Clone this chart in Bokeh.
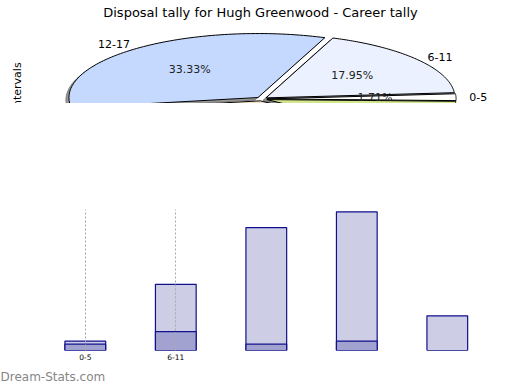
import numpy as np
from bokeh.plotting import figure
from bokeh.layouts import column
from bokeh.models import ColumnDataSource, FixedTicker, Range1d, Title
from bokeh.core.properties import value
from bokeh.embed import file_html
from bokeh.resources import INLINE

# ---------------- data ----------------
title_text = "Disposal tally for Hugh Greenwood - Career tally"
axis_title = "Intervals"
intervals = ["0-5", "6-11", "12-17", "18-23", "24+"]
pie_counts = [2, 21, 39, 44, 11]
slice_colors = ["#FFFFFF", "#EBF1FE", "#C5D9FE", "#F3E3C3", "#D3E78F"]
bar_light = [3, 21, 39, 44, 11]
bar_dark = [2, 6, 2, 3, 0]
tick_positions = [0, 1]
watermark = "Dream-Stats.com"

FONT = "DejaVu Sans"
W = 516

# ---------------- pie (top) ----------------
RX, RY = 189.0, 64.0          # ellipse radii in px
START_DEG = -1.5
EXPLODE = 5.6 / RX            # explode distance (unit-circle units)
H1 = 103
CX, CY = 261.0, 98.5          # pie centre inside the figure (px)
LABEL_R, PCT_R = 1.10, 0.60

p1 = figure(width=W, height=H1, output_backend="svg", toolbar_location=None,
            title=None, x_axis_location=None, y_axis_location=None,
            x_range=Range1d(-CX / RX, (W - CX) / RX),
            y_range=Range1d(-(H1 - CY) / RY, CY / RY),
            min_border=0, min_border_left=0, min_border_right=0,
            min_border_top=0, min_border_bottom=0)
p1.outline_line_color = None
p1.xgrid.visible = False
p1.ygrid.visible = False

total = float(sum(pie_counts))
fracs = [c / total for c in pie_counts]
bounds = START_DEG + 360.0 * np.concatenate([[0.0], np.cumsum(fracs)])
y_floor = p1.y_range.start

sh_xs, sh_ys, sl_xs, sl_ys = [], [], [], []
lab = dict(x=[], y=[], t=[], align=[])
pct = dict(x=[], y=[], t=[])
for i in range(len(intervals)):
    a0, a1 = np.radians(bounds[i]), np.radians(bounds[i + 1])
    mid = 0.5 * (a0 + a1)
    ox, oy = EXPLODE * np.cos(mid), EXPLODE * np.sin(mid)
    t = np.linspace(a0, a1, 90)
    xs = np.concatenate([[ox], ox + np.cos(t)])
    ys = np.concatenate([[oy], oy + np.sin(t)])
    sl_xs.append(list(xs)); sl_ys.append(list(ys))
    sh_xs.append(list(xs - 3.0 / RX)); sh_ys.append(list(ys - 2.5 / RY))
    ly = LABEL_R * np.sin(mid)
    if ly > y_floor:   # only labels that fall in the visible band
        lab["x"].append(LABEL_R * np.cos(mid)); lab["y"].append(ly)
        lab["t"].append(intervals[i])
        lab["align"].append("left" if np.cos(mid) >= 0 else "right")
    py = PCT_R * np.sin(mid)
    if py > y_floor:
        pct["x"].append(PCT_R * np.cos(mid)); pct["y"].append(py)
        pct["t"].append(f"{100 * fracs[i]:.2f}%")

p1.patches(sh_xs, sh_ys, fill_color="#9a9a9a", line_color="#7a7a7a", line_width=1)
p1.patches(sl_xs, sl_ys, fill_color=slice_colors, line_color="black", line_width=1)

p1.text(x="x", y="y", text="t", text_align="align", source=ColumnDataSource(lab),
        text_font=value(FONT), text_font_size="11px", text_baseline="middle",
        text_color="black")
p1.text(x=pct["x"], y=pct["y"], text=pct["t"], text_font=value(FONT), text_font_size="11px",
        text_align="center", text_baseline="middle", text_color="#222222")

# chart title (inside the frame, near its top)
p1.text(x=[(260 - CX) / RX], y=[(CY - 11.5) / RY], text=[title_text], text_font=value(FONT),
        text_font_size="13px", text_align="center", text_baseline="alphabetic",
        text_color="black")
# vertical axis title (clipped by the frame bottom, as in the reference)
p1.text(x=[(17 - CX) / RX], y=[(CY - 85.8) / RY], text=[axis_title], angle=np.pi / 2,
        text_font=value(FONT), text_font_size="11px", text_align="center",
        text_baseline="middle", text_color="black")

# ---------------- bars (bottom) ----------------
PX_PER_X = 90.5
PX_PER_Y = 3.152
FIRST_CENTER = 84.8
TOP, BOTTOM = 106, 40
H2 = 287
frame_h = H2 - TOP - BOTTOM
x0 = -FIRST_CENTER / PX_PER_X

p2 = figure(width=W, height=H2, output_backend="svg", toolbar_location=None,
            title=None, y_axis_location=None,
            x_range=Range1d(x0, x0 + W / PX_PER_X),
            y_range=Range1d(0, frame_h / PX_PER_Y),
            min_border_left=0, min_border_right=0,
            min_border_top=TOP, min_border_bottom=BOTTOM)
p2.outline_line_color = None
p2.ygrid.visible = False

src = ColumnDataSource(dict(x=list(range(len(intervals))), light=bar_light, dark=bar_dark))
p2.vbar(x="x", top="light", width=0.45, source=src, fill_color="#CDCDE6",
        line_color="#10108C", line_width=1.2)
p2.vbar(x="x", top="dark", width=0.45, source=src, fill_color="#A2A2D1",
        line_color="#10108C", line_width=1.2)

p2.xgrid.ticker = FixedTicker(ticks=tick_positions)
p2.xgrid.grid_line_color = "#a8a8a8"
p2.xgrid.grid_line_dash = "2 2"
p2.xgrid.grid_line_width = 1
p2.xgrid.level = "overlay"

ax = p2.xaxis[0]
ax.ticker = FixedTicker(ticks=tick_positions)
ax.major_label_overrides = {t: intervals[t] for t in tick_positions}
ax.axis_line_color = None
ax.major_tick_line_color = None
ax.minor_tick_line_color = None
ax.major_tick_out = 0
ax.major_tick_in = 0
ax.major_label_standoff = 3
ax.major_label_text_font = FONT
ax.major_label_text_font_size = "7.5px"
ax.major_label_text_color = "black"

p2.add_layout(Title(text=watermark, align="left", offset=0, standoff=10,
                    text_font=FONT, text_font_size="12px", text_color="#868686",
                    text_font_style="normal"), "below")

layout = column(p1, p2, spacing=0)
open("out.html", "w").write(file_html(layout, INLINE))
